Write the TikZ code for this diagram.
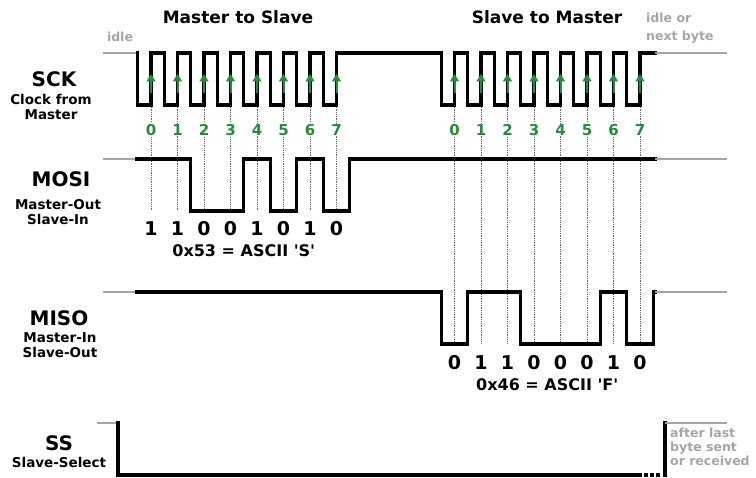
\documentclass[tikz,border=0pt]{standalone}
\usepackage{fontspec}
\setmainfont{DejaVu Sans}
\usetikzlibrary{arrows.meta}
\definecolor{clkgreen}{RGB}{35,140,60}
\definecolor{idlegray}{RGB}{165,165,165}
\tikzset{
  sig/.style={line width=3.2pt, line join=miter, line cap=rect},
  idleline/.style={line width=2.6pt, idlegray},
  bitline/.style={densely dotted, line width=0.8pt, black!60},
  upedge/.style={-{Triangle[width=9pt,length=7.5pt]}, line width=2pt, clkgreen},
  title/.style={inner sep=0pt, font=\fontsize{17}{20}\selectfont\bfseries},
  signame/.style={inner sep=0pt, font=\fontsize{20}{22}\selectfont\bfseries},
  sigsub/.style={inner sep=0pt, align=center, font=\fontsize{13.5}{15.5}\selectfont\bfseries},
  clkdigit/.style={inner sep=1pt, fill=white, text=clkgreen, font=\fontsize{15}{16}\selectfont\bfseries},
  bitdigit/.style={inner sep=0pt, font=\fontsize{19}{20}\selectfont\bfseries},
  ascii/.style={inner sep=0pt, font=\fontsize{16}{18}\selectfont\bfseries},
  note/.style={inner sep=0pt, text=idlegray, align=left, font=\fontsize{12.5}{14}\selectfont\bfseries}
}
\begin{document}
\begin{tikzpicture}[x=1pt,y=-1pt]
    \useasboundingbox (0,0) rectangle (756,478);
    \def\pw{26.5}
    % Dotted guides below each rising clock edge
    \foreach \k in {0,...,7} {
            \coordinate (A\k) at ({151+\pw*\k},105);
            \coordinate (B\k) at ({454.5+\pw*\k},105);
            \draw[bitline] (A\k) -- ++(0,106);
            \draw[bitline] (B\k) -- ++(0,239);
        }
    % Titles and idle notes
    \node[title] (m2s) at (238,17) {Master to Slave};
    \node[title] (s2m) at (547,17) {Slave to Master};
    \node[note] (idleL) at (120,37) {idle};
    \node[note, anchor=west, font=\fontsize{12.5}{18}\selectfont\bfseries] (idleR) at (646,28) {idle or\\next byte};

    % SCK
    \node[signame] (sck) at (54,79) {SCK};
    \node[sigsub] (sckd) at (51,107) {Clock from\\Master};
    \draw[idleline] (103,53) -- (137.75,53);
    \draw[sig] (137.75,53)
        \foreach \k in {0,...,7} { -- ++(0,52) -- ++(13.25,0) -- ++(0,-52) -- ++(13.25,0) }
        -- (441.25,53)
        \foreach \k in {0,...,7} { -- ++(0,52) -- ++(13.25,0) -- ++(0,-52) -- ++(13.25,0) }
        -- (655,53);
    \draw[idleline] (655,53) -- (727,53);
    \foreach \k in {0,...,7} {
            \draw[upedge] (A\k) ++(0,-12) -- ++(0,-19); % first byte
            \draw[upedge] (B\k) ++(0,-12) -- ++(0,-19); % second byte
            \node[clkdigit] (ga\k) at ({151+\pw*\k},130) {\k};
            \node[clkdigit] (gb\k) at ({454.5+\pw*\k},130) {\k};
        }

    % MOSI
    \node[signame] (mosi) at (61,179) {MOSI};
    \node[sigsub] (mosid) at (58,212) {Master-Out\\Slave-In};
    \draw[idleline] (103,159) -- (137,159);
    \draw[sig] (137,159) -- (190.75,159) -- (190.75,211) -- (243.75,211) -- (243.75,159)
        -- (270.25,159) -- (270.25,211) -- (296.75,211) -- (296.75,159) -- (323.25,159)
        -- (323.25,211) -- (349.75,211) -- (349.75,159) -- (655,159);
    \draw[idleline] (655,159) -- (727,159);
    \foreach \b [count=\k from 0] in {1,1,0,0,1,0,1,0}
        \node[bitdigit] (mo\k) at ({151+\pw*\k},229) {\b};
    \node[ascii] (sval) at (243.75,251) {0x53 = ASCII \textquotesingle S\textquotesingle};

    % MISO
    \node[signame] (miso) at (59,318) {MISO};
    \node[sigsub] (misod) at (60,345) {Master-In\\Slave-Out};
    \draw[idleline] (103,292) -- (137,292);
    \draw[sig] (137,292) -- (441.25,292) -- (441.25,344) -- (467.75,344) -- (467.75,292)
        -- (520.75,292) -- (520.75,344) -- (600.25,344) -- (600.25,292) -- (626.75,292)
        -- (626.75,344) -- (653.25,344) -- (653.25,292) -- (655,292);
    \draw[idleline] (655,292) -- (727,292);
    \foreach \b [count=\k from 0] in {0,1,1,0,0,0,1,0}
        \node[bitdigit] (mi\k) at ({454.5+\pw*\k},363) {\b};
    \node[ascii] (fval) at (547.25,385) {0x46 = ASCII \textquotesingle F\textquotesingle};

    % SS
    \node[signame] (ss) at (59,443) {SS};
    \node[sigsub] (ssd) at (59,462) {Slave-Select};
    \draw[idleline] (97,423) -- (118,423);
    \draw[sig] (118,423) -- (118,475) -- (640,475);
    \foreach \x in {645.5,651.5,657.5}
        \fill (\x-2,473) rectangle (\x+2,477);
    \draw[sig] (665,475) -- (665,423);
    \draw[idleline] (665,423) -- (727,423);
    \node[note, anchor=north west] (after) at (670,428) {after last\\byte sent\\or received};
\end{tikzpicture}
\end{document}
